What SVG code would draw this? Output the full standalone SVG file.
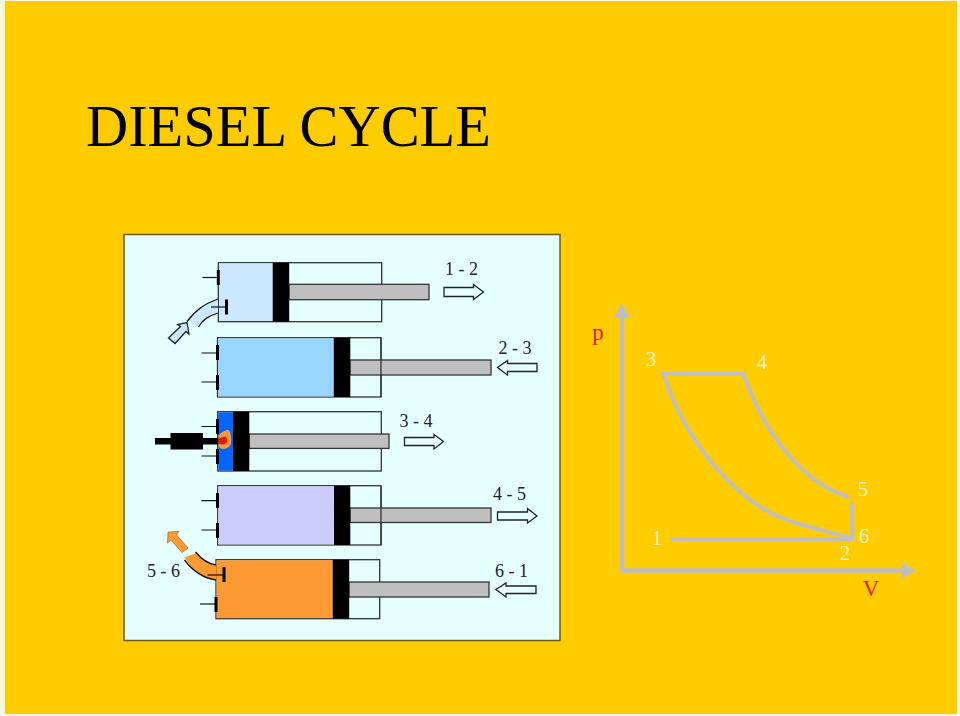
<svg xmlns="http://www.w3.org/2000/svg" width="960" height="716" viewBox="0 0 960 716">
<style>
.cyl{fill:#e5ffff;stroke:#333;stroke-width:1.3}
.gas{stroke:none}
.pis{fill:#000;stroke:none}
.rod{fill:#bfbfbf;stroke:#333;stroke-width:1.3}
.v{fill:none;stroke:#111;stroke-width:1.2}
.vh{fill:#000;stroke:none}
.arw{fill:#e5ffff;stroke:#222;stroke-width:1.3}
.t{font-family:"Liberation Serif",serif;font-size:18px;fill:#222}
.w{font-family:"Liberation Serif",serif;font-size:21px;fill:#fff2c0;text-anchor:middle}
.r{font-family:"Liberation Serif",serif;font-size:23px;fill:#e0201c;text-anchor:middle}
.g{fill:none;stroke:#bfbfbf;stroke-width:4;stroke-linejoin:miter}
</style>
<rect width="960" height="716" fill="#fff8dc"/>
<rect x="5" y="1" width="952" height="713" fill="#ffcc00"/>
<text id="title" x="86" y="146" font-family="Liberation Serif, serif" font-size="58.400" fill="#000">DIESEL CYCLE</text>
<rect id="panel" x="124" y="234.500" width="436" height="406" fill="#e5ffff" stroke="#6b5a10" stroke-width="1.500"/>

<g id="cylinder-1">
<rect class="cyl" x="218.300" y="262.700" width="163.400" height="59"/>
<rect class="gas" x="219" y="263.400" width="54" height="57.600" fill="#cce8ff"/>
<rect class="rod" x="289" y="284.300" width="140" height="15.400"/>
<rect class="pis" x="272.700" y="262.700" width="16.500" height="59"/>
<path class="v" d="M202.500 277.500H218"/><rect class="vh" x="216.800" y="270" width="3" height="15"/>
<path d="M218 299C204 304 196 310 187 321.500L198.500 327C203 319 209 316 218 313Z" fill="#cce8ff"/>
<path d="M218 299C204 304 196 310 187 321.500M218 313C209 316 203 319 198.500 327" fill="none" stroke="#111" stroke-width="1.300"/>
<path class="v" d="M211 307H226"/><rect class="vh" x="225" y="299.500" width="3" height="15"/>
<path class="arw" style="fill:#cce8ff" d="M168.500 338L180.500 326.500L177.500 324.500L187 322.500L189 334L186 331.500L175 343.500Z"/>
</g>

<g id="cylinder-2">
<rect class="cyl" x="217.500" y="337.700" width="163.500" height="59.300"/>
<rect class="gas" x="218" y="338.400" width="116" height="58" fill="#99d6ff"/>
<rect class="rod" x="350" y="360" width="141" height="15"/>
<path class="cyl" style="fill:none" d="M381 337.700V397"/>
<rect class="pis" x="333.800" y="337.700" width="16.500" height="59.300"/>
<path class="v" d="M201.500 353H218M201.500 382H218"/>
<rect class="vh" x="216" y="345" width="3" height="15"/><rect class="vh" x="216" y="375" width="3" height="15"/>
</g>

<g id="cylinder-3">
<rect class="cyl" x="217.700" y="411.700" width="163.600" height="59.300"/>
<rect class="gas" x="218.300" y="412.300" width="15" height="58.200" fill="#0066ff"/>
<rect class="rod" x="249.300" y="434" width="139.700" height="14.400"/>
<rect class="pis" x="233" y="411.700" width="16.300" height="59.300"/>
<path class="v" d="M201.500 426.500H218M201.500 456H218"/>
<rect class="vh" x="216" y="419" width="3" height="15"/><rect class="vh" x="216" y="449" width="3" height="15"/>
<path class="vh" d="M155 438H170.500V433H203V438H219V444.500H203V449.500H170.500V444.500H155Z"/>
<path d="M218.500 436C221 432 226 429.500 228.500 430C231.500 432 231.500 442 230.500 445C227 450 220 450 218.500 446Z" fill="#ff9933"/>
<path d="M219 438L226 436.500L227.500 442L223.500 444.500L219 444Z" fill="#ee1111"/>
</g>

<g id="cylinder-4">
<rect class="cyl" x="217.700" y="485.700" width="163.400" height="59.300"/>
<rect class="gas" x="218.300" y="486.400" width="116" height="58" fill="#ccccff"/>
<rect class="rod" x="350" y="508" width="141" height="14.500"/>
<path class="cyl" style="fill:none" d="M381 485.700V545"/>
<rect class="pis" x="334" y="485.700" width="16.300" height="59.300"/>
<path class="v" d="M201.500 500.700H218M201.500 530H218"/>
<rect class="vh" x="216" y="493" width="3" height="15"/><rect class="vh" x="216" y="523" width="3" height="15"/>
</g>

<g id="cylinder-5">
<rect class="cyl" x="216" y="559.700" width="163.700" height="59"/>
<rect class="gas" x="216.600" y="560.300" width="116.200" height="57.800" fill="#ff9933"/>
<rect class="rod" x="349" y="582" width="140" height="15"/>
<rect class="pis" x="332.700" y="559.700" width="16.500" height="59"/>
<path d="M184.500 557.500L197 552.500C203 561 209 564 216 565V580C203 578 192 570 184.500 557.500Z" fill="#ff9933"/>
<path d="M195.500 552C203 561 209 564 216 565M184.500 560C192 570 203 578 216 580" fill="none" stroke="#111" stroke-width="1.300"/>
<path class="v" d="M207.500 575H224"/><rect class="vh" x="222.500" y="567" width="3" height="15"/>
<path class="v" d="M200 604H216"/><rect class="vh" x="214.500" y="597" width="3" height="15"/>
<path d="M168 532L179 531.500L176.500 535L188 548L182 552.500L171 540L167.500 543Z" fill="#ff9933" stroke="#8a5a10" stroke-width="0.600"/>
</g>

<g id="connectors">
<path class="arw" d="M444 287.500H473.500V284.500L483.500 292L473.500 299.500V296.500H444Z"/>
<path class="arw" d="M537 363.500H507.500V360.500L497.500 367.500L507.500 375V371.500H537Z"/>
<path class="arw" d="M404.500 437.500H434V434.500L443.500 441.500L434 449V445.500H404.500Z"/>
<path class="arw" d="M497.500 512H527.500V508.500L537 516L527.500 523V520H497.500Z"/>
<path class="arw" d="M536 586H506V583L496 589.500L506 597V593.500H536Z"/>
</g>

<g id="pv-diagram">
<path class="g" style="stroke-width:4.500" d="M622 317V570.500H904"/>
<path d="M622 303L630 318H614Z" fill="#bfbfbf"/>
<path d="M916 570.500L902 562.500V578.500Z" fill="#bfbfbf"/>
<path class="g" d="M671 539H852V502"/>
<path class="g" d="M851 538C830 532 812 528 793 522C770 515 745 500 720 472C695 445 675 410 664 375.500L663 374H743L744 376C755 405 768 430 783 448C800 470 822 489 849 497"/>
</g>

<g id="labels">
<text class="t" x="445" y="275">1 - 2</text>
<text class="t" x="498.500" y="354">2 - 3</text>
<text class="t" x="399.500" y="427">3 - 4</text>
<text class="t" x="493" y="500">4 - 5</text>
<text class="t" x="147" y="577">5 - 6</text>
<text class="t" x="495" y="577">6 - 1</text>
<text class="r" x="598" y="340">p</text>
<text class="r" x="871" y="596">V</text>
<text class="w" x="651" y="366">3</text>
<text class="w" x="762" y="369">4</text>
<text class="w" x="863" y="496">5</text>
<text class="w" x="864" y="543">6</text>
<text class="w" x="845" y="560">2</text>
<text class="w" x="657" y="545">1</text>
</g>
</svg>
